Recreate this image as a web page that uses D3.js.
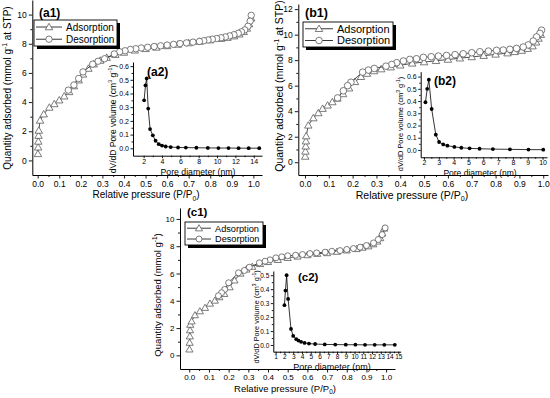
<!DOCTYPE html>
<html>
<head>
<meta charset="utf-8">
<script src="https://cdn.jsdelivr.net/npm/d3@7"></script>
<style>
  body { margin: 0; background: #fff; }
  svg { display: block; font-family: Arial, "Liberation Sans", sans-serif; }
</style>
</head>
<body>
<svg id="fig" width="550" height="398"></svg>
<script>
/* ── DATA ─────────────────────────────────────── */

// (a1) isotherm
const a1AdsP = [0.001, 0.002, 0.003, 0.004, 0.005, 0.011, 0.028, 0.054, 0.077, 0.1, 0.123, 0.146, 0.168, 0.19, 0.21, 0.235, 0.26, 0.29, 0.32, 0.36, 0.4, 0.45, 0.5, 0.55, 0.6, 0.65, 0.7, 0.75, 0.8, 0.85, 0.88, 0.91, 0.935, 0.955, 0.97, 0.98, 0.99];
const a1AdsQ = [0.45, 0.9, 1.3, 1.7, 2.05, 2.74, 3.17, 3.63, 3.87, 4.13, 4.4, 4.7, 5.1, 5.5, 5.9, 6.3, 6.6, 6.85, 7.05, 7.25, 7.4, 7.55, 7.65, 7.75, 7.85, 7.95, 8.05, 8.15, 8.25, 8.35, 8.42, 8.52, 8.65, 8.82, 9.05, 9.35, 9.75];
const a1DesP = [0.99, 0.985, 0.975, 0.96, 0.945, 0.93, 0.91, 0.89, 0.87, 0.85, 0.83, 0.81, 0.79, 0.77, 0.75, 0.72, 0.69, 0.66, 0.63, 0.6, 0.57, 0.54, 0.51, 0.48, 0.455, 0.43, 0.405, 0.38, 0.355, 0.31, 0.28, 0.255, 0.21, 0.19, 0.168, 0.142];
const a1DesQ = [9.95, 9.55, 9.2, 8.95, 8.82, 8.72, 8.62, 8.54, 8.47, 8.41, 8.36, 8.31, 8.26, 8.21, 8.16, 8.11, 8.06, 8.01, 7.96, 7.91, 7.86, 7.81, 7.76, 7.71, 7.66, 7.61, 7.52, 7.45, 7.3, 6.97, 6.8, 6.6, 6.07, 5.62, 5.17, 4.82];
// (a2) pore size distribution
const a2D = [2.05, 2.2, 2.33, 2.5, 2.7, 3.0, 3.3, 3.65, 4.0, 4.4, 4.95, 5.75, 6.6, 7.75, 9.0, 10.15, 11.25, 12.35, 13.45, 14.6];
const a2V = [0.35, 0.46, 0.51, 0.29, 0.14, 0.095, 0.055, 0.03, 0.02, 0.013, 0.009, 0.006, 0.005, 0.004, 0.003, 0.002, 0.002, 0.001, 0.001, 0.001];

// (b1) isotherm
const b1AdsP = [0.001, 0.002, 0.003, 0.004, 0.005, 0.014, 0.035, 0.056, 0.074, 0.095, 0.115, 0.136, 0.16, 0.185, 0.21, 0.235, 0.26, 0.29, 0.32, 0.36, 0.4, 0.45, 0.5, 0.55, 0.6, 0.65, 0.7, 0.75, 0.8, 0.85, 0.88, 0.91, 0.935, 0.955, 0.97, 0.98, 0.99];
const b1AdsQ = [0.45, 0.85, 1.25, 1.65, 2.05, 2.89, 3.46, 3.86, 4.2, 4.46, 4.72, 5.0, 5.35, 5.8, 6.3, 6.7, 6.95, 7.15, 7.3, 7.45, 7.6, 7.75, 7.85, 7.95, 8.05, 8.15, 8.25, 8.35, 8.45, 8.55, 8.65, 8.75, 8.9, 9.1, 9.4, 9.7, 10.0];
const b1DesP = [0.993, 0.986, 0.972, 0.958, 0.937, 0.916, 0.888, 0.86, 0.832, 0.804, 0.77, 0.734, 0.7, 0.664, 0.63, 0.594, 0.56, 0.53, 0.497, 0.468, 0.44, 0.413, 0.385, 0.364, 0.34, 0.291, 0.266, 0.242, 0.193, 0.179, 0.161, 0.137];
const b1DesQ = [10.35, 10.1, 9.82, 9.5, 9.19, 9.03, 8.92, 8.85, 8.79, 8.77, 8.71, 8.66, 8.58, 8.5, 8.43, 8.37, 8.32, 8.27, 8.22, 8.11, 8.06, 7.93, 7.8, 7.66, 7.53, 7.35, 7.22, 7.06, 6.27, 6.0, 5.6, 5.04];
// (b2)
const b2D = [2.1, 2.22, 2.33, 2.52, 2.8, 3.02, 3.3, 3.58, 4.05, 4.52, 5.08, 5.75, 6.65, 7.8, 9.05, 10.05];
const b2V = [0.39, 0.5, 0.575, 0.335, 0.125, 0.065, 0.045, 0.035, 0.025, 0.018, 0.013, 0.01, 0.007, 0.005, 0.003, 0.002];

// (c1) isotherm
const c1AdsP = [0.001, 0.002, 0.003, 0.004, 0.005, 0.012, 0.029, 0.054, 0.08, 0.105, 0.13, 0.153, 0.178, 0.205, 0.23, 0.26, 0.29, 0.32, 0.36, 0.4, 0.45, 0.5, 0.55, 0.6, 0.65, 0.7, 0.75, 0.8, 0.85, 0.88, 0.91, 0.935, 0.955, 0.97, 0.98, 0.99];
const c1AdsQ = [0.44, 0.93, 1.4, 1.85, 2.25, 2.5, 2.95, 3.24, 3.49, 3.8, 4.02, 4.27, 4.51, 5.0, 5.5, 6.0, 6.3, 6.5, 6.7, 6.85, 7.0, 7.15, 7.25, 7.35, 7.45, 7.5, 7.6, 7.7, 7.8, 7.9, 8.0, 8.15, 8.35, 8.6, 8.95, 9.3];
const c1DesP = [0.995, 0.98, 0.96, 0.936, 0.9, 0.868, 0.834, 0.8, 0.766, 0.724, 0.69, 0.647, 0.613, 0.575, 0.54, 0.5, 0.47, 0.44, 0.41, 0.385, 0.356, 0.305, 0.28, 0.25, 0.2, 0.18, 0.164, 0.148];
const c1DesQ = [9.34, 8.85, 8.49, 8.24, 8.05, 7.93, 7.83, 7.76, 7.68, 7.63, 7.56, 7.51, 7.46, 7.39, 7.34, 7.3, 7.22, 7.15, 7.0, 6.9, 6.78, 6.46, 6.22, 6.05, 5.32, 4.83, 4.59, 4.37];
// (c2)
const c2D = [2.0, 2.12, 2.25, 2.42, 2.75, 3.0, 3.35, 3.6, 3.9, 4.3, 4.8, 5.5, 6.6, 7.8, 9.0, 10.1, 11.2, 12.3, 13.4, 14.6];
const c2V = [0.285, 0.39, 0.5, 0.33, 0.115, 0.065, 0.042, 0.032, 0.023, 0.015, 0.01, 0.007, 0.004, 0.003, 0.002, 0.002, 0.001, 0.001, 0.001, 0.001];

// tick values
const pTicks   = [0, 0.1, 0.2, 0.3, 0.4, 0.5, 0.6, 0.7, 0.8, 0.9, 1.0];
const aQTicks  = [0, 2, 4, 6, 8, 10];
const bQTicks  = [0, 2, 4, 6, 8, 10, 12];
const cQTicks  = [0, 2, 4, 6, 8, 10];
const a2DTicks = [2, 4, 6, 8, 10, 12, 14];
const b2DTicks = [2, 3, 4, 5, 6, 7, 8, 9, 10];
const c2DTicks = [1, 2, 3, 4, 5, 6, 7, 8, 9, 10, 11, 12, 13, 14, 15];
const vTicks6  = [0, 0.1, 0.2, 0.3, 0.4, 0.5, 0.6];
const vTicks5  = [0, 0.1, 0.2, 0.3, 0.4, 0.5];

/* ── LAYOUT ───────────────────────────────────── */

const panels = [
  {
    tag: "a", ads: [a1AdsP, a1AdsQ], des: [a1DesP, a1DesQ], psd: [a2D, a2V],
    box: { l: 32.3, r: 262, t: 0, b: 175 }, xd: [-0.025, 1.04], yd: [-1, 11], yTicks: aQTicks,
    tickFs: 8.5, tickPad: 2, titleFs: 10, xTitle: [146, 198], yTitle: [11, 88], stp: true,
    tagPos: [39, 17], tagFs: 12,
    legend: { x: 34, y: 20, w: 83, h: 26, fs: 10, line: 26 },
    inset: { l: 133, r: 262, t: 62, b: 155.7, xd: [0.84, 14.9], yd: [-0.054, 0.63],
             xTicks: a2DTicks, yTicks: vTicks6, tickFs: 7, titleFs: 8.7, yFs: 8.5,
             xTitle: [198, 174.5], yTitle: [115.5, 119], tagPos: [147, 76], tagFs: 12 },
    mr: 3.2, tri: 24
  },
  {
    tag: "b", ads: [b1AdsP, b1AdsQ], des: [b1DesP, b1DesQ], psd: [b2D, b2V],
    box: { l: 298.3, r: 548, t: 4, b: 175 }, xd: [-0.028, 1.02], yd: [-1, 12.4], yTicks: bQTicks,
    tickFs: 8.5, tickPad: 2, titleFs: 10.5, xTitle: [412, 198.5], yTitle: [283, 86], stp: true,
    tagPos: [305, 17], tagFs: 12.5,
    legend: { x: 303, y: 22, w: 90, h: 25, fs: 11, line: 28 },
    inset: { l: 420.7, r: 547, t: 71.7, b: 157.3, xd: [1.78, 10.3], yd: [-0.06, 0.64],
             xTicks: b2DTicks, yTicks: vTicks6, tickFs: 7, titleFs: 8.5, yFs: 7.4,
             xTitle: [480, 175.5], yTitle: [402.7, 124], tagPos: [434, 85], tagFs: 12 },
    mr: 3.3, tri: 24
  },
  {
    tag: "c", ads: [c1AdsP, c1AdsQ], des: [c1DesP, c1DesQ], psd: [c2D, c2V],
    box: { l: 180, r: 395, t: 208, b: 369 }, xd: [-0.047, 1.045], yd: [-1, 10.8], yTicks: cQTicks,
    tickFs: 8, tickPad: 2, titleFs: 9.5, xTitle: [285, 391.5], yTitle: [161, 295], stp: false,
    tagPos: [187, 216], tagFs: 11.5,
    legend: { x: 185, y: 222, w: 78, h: 23, fs: 9.2, line: 24 },
    inset: { l: 273.3, r: 400.7, t: 271, b: 351.7, xd: [0.73, 15.27], yd: [-0.048, 0.53],
             xTicks: c2DTicks, yTicks: vTicks5, tickFs: 6.5, titleFs: 9, yFs: 7.3,
             xTitle: [332, 369.8], yTitle: [258.5, 317], tagPos: [298, 281], tagFs: 11.5 },
    mr: 3.0, tri: 22
  }
];

const svg = d3.select("#fig");
const MARK = "#5a5a5a";
const LINE = "#222";

/* ── HELPERS ──────────────────────────────────── */

// testo con apici/pedici: [[txt, ""|"sup"|"sub"], ...]
function rich(sel, parts, fs) {
  let off = 0;
  parts.forEach(([t, k]) => {
    const want = k === "sup" ? -fs * 0.38 : k === "sub" ? fs * 0.25 : 0;
    const ts = sel.append("tspan").text(t).attr("dy", want - off);
    if (k) ts.attr("font-size", fs * 0.68);
    off = want;
  });
}

function styleAxis(g, fs) {
  g.attr("font-family", null).attr("font-size", fs);
  g.select(".domain").attr("stroke", "#000").attr("stroke-width", 1);
  g.selectAll(".tick line").attr("stroke", "#000").attr("stroke-width", 0.9);
  g.selectAll(".tick text").attr("fill", "#000");
}

function halfSteps(ticks) {
  const out = [];
  for (let i = 0; i < ticks.length - 1; i++) out.push((ticks[i] + ticks[i + 1]) / 2);
  return out;
}

function drawAxes(g, x, y, box, xt, yt, xfmt, yfmt, fs, big, pad) {
  const tl = big ? 3.5 : 2.5, ml = big ? 2 : 1.5;
  const gx = g.append("g").attr("transform", `translate(0,${box.b})`)
    .call(d3.axisBottom(x).tickValues(xt).tickFormat(xfmt).tickSize(tl).tickSizeOuter(0).tickPadding(big ? pad : 0.5));
  styleAxis(gx, fs);
  const gxm = g.append("g").attr("transform", `translate(0,${box.b})`)
    .call(d3.axisBottom(x).tickValues(halfSteps(xt)).tickFormat("").tickSize(ml).tickSizeOuter(0));
  styleAxis(gxm, fs); gxm.select(".domain").remove();

  const gy = g.append("g").attr("transform", `translate(${box.l},0)`)
    .call(d3.axisLeft(y).tickValues(yt).tickFormat(yfmt).tickSize(tl).tickSizeOuter(0).tickPadding(big ? 2 : 1.5));
  styleAxis(gy, fs);
  const gym = g.append("g").attr("transform", `translate(${box.l},0)`)
    .call(d3.axisLeft(y).tickValues(halfSteps(yt)).tickFormat("").tickSize(ml).tickSizeOuter(0));
  styleAxis(gym, fs); gym.select(".domain").remove();
}

function series(g, xs, ys, x, y, kind, P) {
  const pts = xs.map((v, i) => [x(v), y(ys[i])]);
  g.append("path").attr("d", d3.line()(pts))
    .attr("fill", "none").attr("stroke", LINE).attr("stroke-width", 0.8);
  marks(g, pts, kind, P);
}

function marks(g, pts, kind, P) {
  if (kind === "tri") {
    const sym = d3.symbol(d3.symbolTriangle, P.tri);
    g.selectAll(null).data(pts).join("path")
      .attr("d", sym).attr("transform", d => `translate(${d[0]},${d[1] + 0.6})`)
      .attr("fill", "#fff").attr("stroke", MARK).attr("stroke-width", 0.8);
  } else {
    g.selectAll(null).data(pts).join("circle")
      .attr("cx", d => d[0]).attr("cy", d => d[1]).attr("r", P.mr)
      .attr("fill", "#fff").attr("stroke", MARK).attr("stroke-width", 0.8);
  }
}

/* ── PANELS ───────────────────────────────────── */

panels.forEach(P => {
  const g = svg.append("g");
  const B = P.box;
  const x = d3.scaleLinear().domain(P.xd).range([B.l, B.r]);
  const y = d3.scaleLinear().domain(P.yd).range([B.b, B.t]);

  drawAxes(g, x, y, B, pTicks, P.yTicks, d3.format(".1f"), d3.format("d"), P.tickFs, true, P.tickPad);

  // titoli assi
  const xt = g.append("text").attr("x", P.xTitle[0]).attr("y", P.xTitle[1])
    .attr("text-anchor", "middle").attr("font-size", P.titleFs);
  rich(xt, [["Relative pressure (P/P", ""], ["0", "sub"], [")", ""]], P.titleFs);

  const yt = g.append("text").attr("transform", `translate(${P.yTitle[0]},${P.yTitle[1]}) rotate(-90)`)
    .attr("text-anchor", "middle").attr("dy", "0.35em").attr("font-size", P.titleFs);
  rich(yt, [["Quantity adsorbed (mmol g", ""], ["-1", "sup"], [P.stp ? " at STP)" : ")", ""]], P.titleFs);

  // etichetta pannello
  g.append("text").attr("x", P.tagPos[0]).attr("y", P.tagPos[1])
    .attr("font-size", P.tagFs).attr("font-weight", "bold").text(`(${P.tag}1)`);

  // isoterme
  series(g, P.ads[0], P.ads[1], x, y, "tri", P);
  series(g, P.des[0], P.des[1], x, y, "circ", P);

  // legenda con ombra
  const L = P.legend;
  g.append("rect").attr("x", L.x + 3).attr("y", L.y + 3).attr("width", L.w).attr("height", L.h).attr("fill", "#000");
  g.append("rect").attr("x", L.x).attr("y", L.y).attr("width", L.w).attr("height", L.h)
    .attr("fill", "#fff").attr("stroke", "#000").attr("stroke-width", 0.9);
  [["Adsorption", "tri"], ["Desorption", "circ"]].forEach(([name, kind], i) => {
    const cy = L.y + L.h * (i === 0 ? 0.27 : 0.74);
    const x0 = L.x + 2, x1 = L.x + 2 + L.line;
    g.append("line").attr("x1", x0).attr("x2", x1).attr("y1", cy).attr("y2", cy)
      .attr("stroke", LINE).attr("stroke-width", 0.9);
    marks(g, [[(x0 + x1) / 2, cy]], kind, P);
    g.append("text").attr("x", x1 + 4).attr("y", cy).attr("dy", "0.36em")
      .attr("font-size", L.fs).text(name);
  });

  // inset: distribuzione pori
  const I = P.inset;
  const ix = d3.scaleLinear().domain(I.xd).range([I.l, I.r]);
  const iy = d3.scaleLinear().domain(I.yd).range([I.b, I.t]);
  const gi = g.append("g");
  drawAxes(gi, ix, iy, I, I.xTicks, I.yTicks, d3.format("d"), d3.format(".1f"), I.tickFs, false, 0);

  const pts = P.psd[0].map((v, i) => [ix(v), iy(P.psd[1][i])]);
  gi.append("path").attr("d", d3.line()(pts)).attr("fill", "none").attr("stroke", "#000").attr("stroke-width", 0.8);
  gi.selectAll(null).data(pts).join("circle")
    .attr("cx", d => d[0]).attr("cy", d => d[1]).attr("r", 1.9).attr("fill", "#000");

  gi.append("text").attr("x", I.xTitle[0]).attr("y", I.xTitle[1]).attr("text-anchor", "middle")
    .attr("font-size", I.titleFs).text("Pore diameter (nm)");
  const iyt = gi.append("text").attr("transform", `translate(${I.yTitle[0]},${I.yTitle[1]}) rotate(-90)`)
    .attr("text-anchor", "middle").attr("dy", "0.35em").attr("font-size", I.yFs);
  rich(iyt, [["dV/dD Pore volume (cm", ""], ["3", "sup"], [" g", ""], ["-1", "sup"], [")", ""]], I.yFs);
  gi.append("text").attr("x", I.tagPos[0]).attr("y", I.tagPos[1])
    .attr("font-size", I.tagFs).attr("font-weight", "bold").text(`(${P.tag}2)`);
});
</script>
</body>
</html>
